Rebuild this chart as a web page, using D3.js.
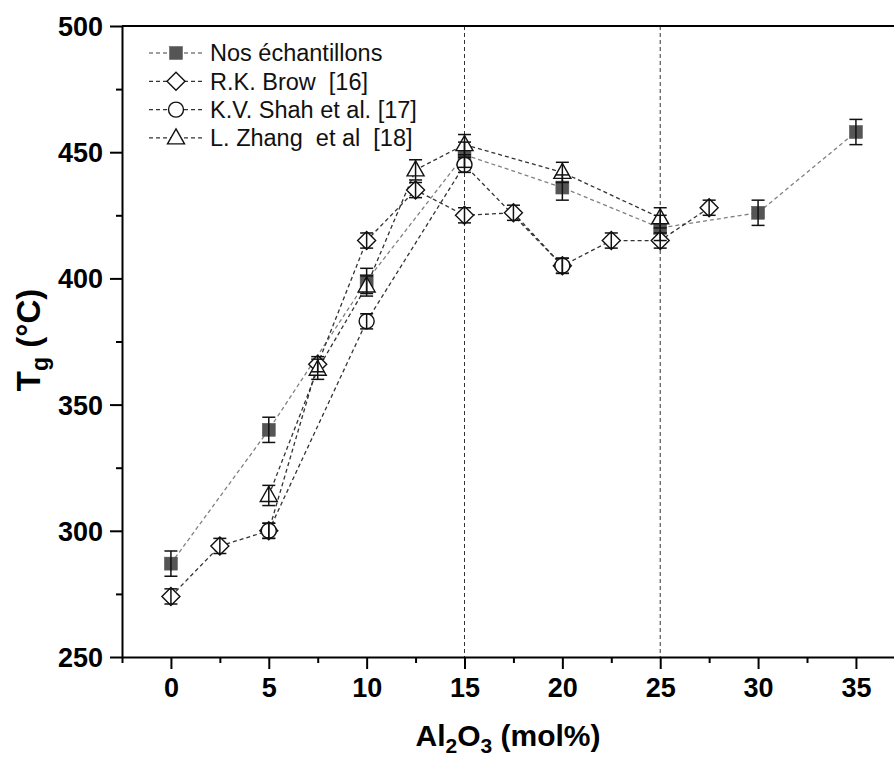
<!DOCTYPE html>
<html>
<head>
<meta charset="utf-8">
<script src="https://cdn.jsdelivr.net/npm/d3@7"></script>
<style>
  html, body { margin: 0; padding: 0; background: #fff; }
  svg { display: block; }
  text { font-family: "Liberation Sans", Arial, sans-serif; }
</style>
</head>
<body>
<svg id="chart" width="894" height="758"></svg>
<script>
// ---- Data ----
const xTicks = [0, 5, 10, 15, 20, 25, 30, 35];
const xMinorTicks = [-2.5, 2.5, 7.5, 12.5, 17.5, 22.5, 27.5, 32.5];
const yTicks = [250, 300, 350, 400, 450, 500];
const yMinorTicks = [275, 325, 375, 425, 475];
const refLines = [15, 25];

const seriesNames = ["Nos échantillons", "R.K. Brow  [16]", "K.V. Shah et al. [17]", "L. Zhang  et al  [18]"];

const nosX = [0, 5, 10, 15, 20, 25, 30, 35];
const nosY = [287, 340, 399, 449, 436, 420, 426, 458];
const nosErr = [5, 5, 5, 5, 5, 5, 5, 5];

const browX = [0, 2.5, 5, 7.5, 10, 12.5, 15, 17.5, 20, 22.5, 25, 27.5];
const browY = [274, 294, 300, 366, 415, 435, 425, 426, 405, 415, 415, 428];
const browErr = [3, 3, 3, 3, 3, 3, 3, 3, 3, 3, 3, 3];

const shahX = [5, 10, 15, 20];
const shahY = [300, 383, 445, 405];
const shahErr = [3, 3, 3, 3];

const zhangX = [5, 7.5, 10, 12.5, 15, 20, 25];
const zhangY = [314, 364, 397, 443, 453, 442, 424];
const zhangErr = [4, 4, 4, 4, 4, 4, 4];

// ---- Layout ----
const svg = d3.select("#chart");
const plotLeft = 122, plotTop = 26, plotBottom = 657;
const pxPerUnit = (856 - 171) / 35;
const x = d3.scaleLinear().domain([-2.5, 37.5]).range([plotLeft, plotLeft + 40 * pxPerUnit]);
const y = d3.scaleLinear().domain([250, 500]).range([plotBottom, plotTop]);

const zip = (xs, ys, es) => xs.map((v, i) => ({ x: v, y: ys[i], e: es[i] }));
const series = [
  { name: seriesNames[0], data: zip(nosX, nosY, nosErr), shape: "square", line: "#808080" },
  { name: seriesNames[1], data: zip(browX, browY, browErr), shape: "diamond", line: "#333" },
  { name: seriesNames[2], data: zip(shahX, shahY, shahErr), shape: "circle", line: "#333" },
  { name: seriesNames[3], data: zip(zhangX, zhangY, zhangErr), shape: "triangle", line: "#333" }
];

// Reference vertical lines
svg.selectAll("line.ref").data(refLines).enter().append("line")
  .attr("class", "ref")
  .attr("x1", d => x(d)).attr("x2", d => x(d))
  .attr("y1", plotTop).attr("y2", plotBottom)
  .attr("stroke", "#333").attr("stroke-width", 1).attr("stroke-dasharray", "4,3");

// Lines
const lineGen = d3.line().x(d => x(d.x)).y(d => y(d.y));
series.forEach(s => {
  svg.append("path").datum(s.data)
    .attr("d", lineGen)
    .attr("fill", "none")
    .attr("stroke", s.line)
    .attr("stroke-width", 1.3)
    .attr("stroke-dasharray", "4,3");
});

// Markers
function drawMarker(g, shape, cx, cy) {
  if (shape === "square") {
    g.append("rect").attr("x", cx - 6.5).attr("y", cy - 6.5).attr("width", 13).attr("height", 13)
      .attr("fill", "#555").attr("stroke", "#555").attr("stroke-width", 0.5);
  } else if (shape === "diamond") {
    g.append("path").attr("d", `M${cx},${cy - 9}L${cx + 9},${cy}L${cx},${cy + 9}L${cx - 9},${cy}Z`)
      .attr("fill", "#fff").attr("stroke", "#111").attr("stroke-width", 1.4);
  } else if (shape === "circle") {
    g.append("circle").attr("cx", cx).attr("cy", cy).attr("r", 7.5)
      .attr("fill", "#fff").attr("stroke", "#111").attr("stroke-width", 1.4);
  } else if (shape === "triangle") {
    g.append("path").attr("d", `M${cx},${cy - 9}L${cx + 8.5},${cy + 6}L${cx - 8.5},${cy + 6}Z`)
      .attr("fill", "#fff").attr("stroke", "#111").attr("stroke-width", 1.4);
  }
}

series.forEach(s => {
  const g = svg.append("g");
  s.data.forEach(d => drawMarker(g, s.shape, x(d.x), y(d.y)));
});

// Error bars
series.forEach(s => {
  const g = svg.append("g").attr("stroke", "#111").attr("stroke-width", 1.5);
  s.data.forEach(d => {
    const cx = x(d.x);
    g.append("line").attr("x1", cx).attr("x2", cx).attr("y1", y(d.y - d.e)).attr("y2", y(d.y + d.e));
    g.append("line").attr("x1", cx - 6.5).attr("x2", cx + 6.5).attr("y1", y(d.y - d.e)).attr("y2", y(d.y - d.e));
    g.append("line").attr("x1", cx - 6.5).attr("x2", cx + 6.5).attr("y1", y(d.y + d.e)).attr("y2", y(d.y + d.e));
  });
});

// Axes
const xAxis = svg.append("g").attr("transform", `translate(0,${plotBottom})`)
  .call(d3.axisBottom(x).tickValues(xTicks).tickSize(12).tickSizeOuter(0).tickPadding(9));
svg.append("g").attr("transform", `translate(0,${plotBottom})`)
  .call(d3.axisBottom(x).tickValues(xMinorTicks).tickSize(6).tickSizeOuter(0).tickFormat(""))
  .select(".domain").remove();
const yAxis = svg.append("g").attr("transform", `translate(${plotLeft},0)`)
  .call(d3.axisLeft(y).tickValues(yTicks).tickSize(12).tickSizeOuter(0).tickPadding(7));
svg.append("g").attr("transform", `translate(${plotLeft},0)`)
  .call(d3.axisLeft(y).tickValues(yMinorTicks).tickSize(6).tickSizeOuter(0).tickFormat(""))
  .select(".domain").remove();

svg.selectAll(".domain").attr("stroke", "#000").attr("stroke-width", 2);
svg.selectAll(".tick line").attr("stroke", "#000").attr("stroke-width", 2);
xAxis.selectAll(".tick text").attr("font-size", 27).attr("font-weight", "bold").attr("fill", "#000")
  .attr("font-family", "'Liberation Sans', Arial, sans-serif");
yAxis.selectAll(".tick text").attr("font-size", 27).attr("font-weight", "bold").attr("fill", "#000")
  .attr("font-family", "'Liberation Sans', Arial, sans-serif").attr("dy", "0.35em");

// Top border
svg.append("line").attr("x1", plotLeft).attr("x2", 894).attr("y1", plotTop).attr("y2", plotTop)
  .attr("stroke", "#000").attr("stroke-width", 2);

// Axis titles
const xt = svg.append("text").attr("x", 508).attr("y", 746).attr("text-anchor", "middle")
  .attr("font-size", 30).attr("font-weight", "bold").attr("fill", "#000");
xt.append("tspan").text("Al");
xt.append("tspan").text("2").attr("font-size", 21).attr("dy", 7);
xt.append("tspan").text("O").attr("dy", -7);
xt.append("tspan").text("3").attr("font-size", 21).attr("dy", 7);
xt.append("tspan").text(" (mol%)").attr("dy", -7);

const yt = svg.append("text").attr("transform", "translate(40,340) rotate(-90)").attr("text-anchor", "middle")
  .attr("font-size", 33).attr("font-weight", "bold").attr("fill", "#000");
yt.append("tspan").text("T");
yt.append("tspan").text("g").attr("font-size", 23).attr("dy", 8);
yt.append("tspan").text(" (°C)").attr("dy", -8);

// Legend
const legend = svg.append("g");
series.forEach((s, i) => {
  const ly = 53 + i * 28.3;
  legend.append("line").attr("x1", 149).attr("x2", 203).attr("y1", ly).attr("y2", ly)
    .attr("stroke", s.line).attr("stroke-width", 1.3).attr("stroke-dasharray", "4,3");
  const g = legend.append("g");
  drawMarker(g, s.shape, 176, ly);
  legend.append("text").attr("x", 210).attr("y", ly).attr("dy", "0.36em")
    .attr("font-size", 23.5).attr("fill", "#111").style("white-space", "pre").text(s.name);
});
</script>
</body>
</html>
